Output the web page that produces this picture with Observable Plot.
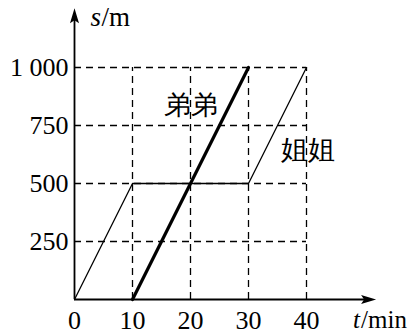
<!DOCTYPE html>
<html>
<head>
<meta charset="utf-8">
<script src="https://cdn.jsdelivr.net/npm/d3@7"></script>
<script src="https://cdn.jsdelivr.net/npm/@observablehq/plot@0.6"></script>
<style>
  html, body { margin: 0; padding: 0; background: white; }
  svg text { font-family: "Liberation Serif", "DejaVu Serif", serif; }
</style>
</head>
<body>
<div id="chart"></div>
<script>
// ---- data ----
const xTicks = [0, 10, 20, 30, 40];
const yTicks = [250, 500, 750, 1000];
const yTickLabels = ["250", "500", "750", "1 000"];
const gridXMax = 40;
const gridYMax = 1000;
const axisXMax = 52;
const axisYMax = 1255;

const sisterT = [0, 10, 30, 40];
const sisterS = [0, 500, 500, 1000];
const brotherT = [10, 30];
const brotherS = [0, 1000];

const seriesNames = ["弟弟", "姐姐"];
const seriesLabelT = [20, 40.2];
const seriesLabelS = [836, 642];

const xAxisName = ["t", "/min"];
const yAxisName = ["s", "/m"];

// ---- build ----
const sister = sisterT.map((t, i) => ({t, s: sisterS[i]}));
const brother = brotherT.map((t, i) => ({t, s: brotherS[i]}));
const labels = seriesNames.map((name, i) => ({name, t: seriesLabelT[i], s: seriesLabelS[i]}));

const arrowHead = {
  draw(context, size) {
    const L = Math.sqrt(size / Math.PI);
    context.moveTo(0, 0);
    context.lineTo(0.3 * L, L);
    context.lineTo(0, 0.8 * L);
    context.lineTo(-0.3 * L, L);
    context.closePath();
  }
};

const font = '"Liberation Serif", "DejaVu Serif", serif';
const dash = "7,5";

const chart = Plot.plot({
  width: 419,
  height: 334,
  marginLeft: 74,
  marginBottom: 35,
  marginTop: 8,
  marginRight: 44,
  style: {fontFamily: font, fontSize: "26px", background: "white", color: "black", overflow: "visible"},
  x: {domain: [0, gridXMax], range: [74, 306], axis: null},
  y: {domain: [0, gridYMax], range: [299, 67], axis: null},
  marks: [
    // dashed grid
    Plot.ruleY(yTicks, {x1: 0, x2: gridXMax, stroke: "black", strokeWidth: 1.3, strokeDasharray: dash}),
    Plot.ruleX(xTicks.filter(d => d > 0), {y1: 0, y2: gridYMax, stroke: "black", strokeWidth: 1.3, strokeDasharray: dash}),
    // axes
    Plot.ruleY([0], {x1: 0, x2: axisXMax - 1, stroke: "black", strokeWidth: 1.8}),
    Plot.ruleX([0], {y1: 0, y2: axisYMax - 30, stroke: "black", strokeWidth: 1.8}),
    Plot.dot([{t: axisXMax, s: 0}], {x: "t", y: "s", symbol: arrowHead, r: 15, fill: "black", stroke: "none", rotate: 90}),
    Plot.dot([{t: 0, s: axisYMax}], {x: "t", y: "s", symbol: arrowHead, r: 15, fill: "black", stroke: "none", rotate: 0}),
    // tick labels
    Plot.text(xTicks, {x: d => d, y: 0, text: d => String(d), dy: 21, fontSize: 26, fill: "black"}),
    Plot.text(yTicks, {x: 0, y: d => d, text: (d, i) => yTickLabels[i], dx: -6, textAnchor: "end", fontSize: 26, fill: "black"}),
    // axis names
    Plot.text([xAxisName[0]], {x: axisXMax, y: 0, text: d => d, dx: -23, dy: 20, textAnchor: "start", fontStyle: "italic", fontSize: 25, fill: "black"}),
    Plot.text([xAxisName[1]], {x: axisXMax, y: 0, text: d => d, dx: -15, dy: 20, textAnchor: "start", fontSize: 25, fill: "black"}),
    Plot.text([yAxisName[0]], {x: 0, y: axisYMax, text: d => d, dx: 16, dy: 9, textAnchor: "start", fontStyle: "italic", fontSize: 27, fill: "black"}),
    Plot.text([yAxisName[1]], {x: 0, y: axisYMax, text: d => d, dx: 27, dy: 9, textAnchor: "start", fontSize: 27, fill: "black"}),
    // series
    Plot.line(sister, {x: "t", y: "s", stroke: "black", strokeWidth: 1.3}),
    Plot.line(brother, {x: "t", y: "s", stroke: "black", strokeWidth: 3.2}),
    // series labels
    Plot.text(labels, {x: "t", y: "s", text: "name", fontSize: 27, fill: "black", fontFamily: '"Noto Sans CJK SC", sans-serif', fontWeight: 300})
  ]
});
document.getElementById("chart").appendChild(chart);
</script>
</body>
</html>
